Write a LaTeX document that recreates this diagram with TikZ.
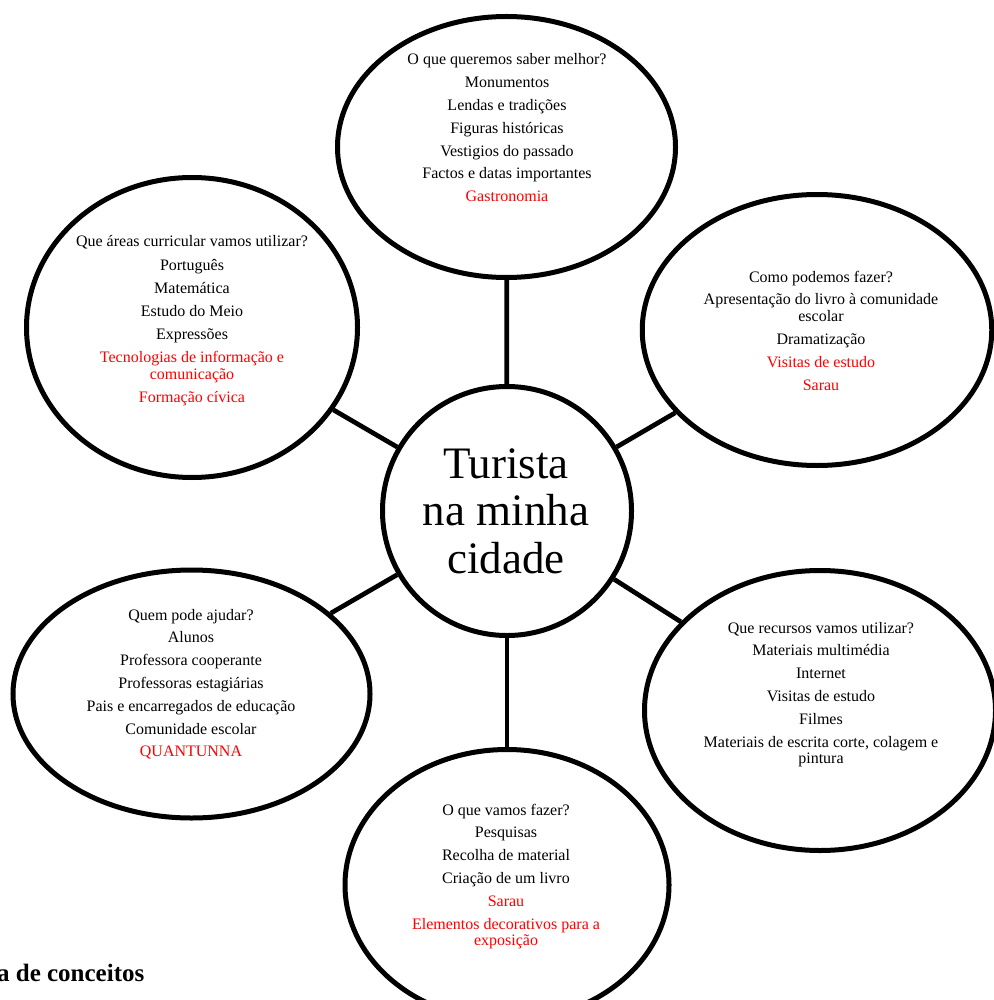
\documentclass[tikz,border=0pt]{standalone}
\usepackage{fontspec}
\setmainfont{Liberation Serif}
\usetikzlibrary{shapes.geometric}
\newcommand\rd[1]{\textcolor{red}{#1}}
\setlength{\tabcolsep}{0pt}
\begin{document}
\begin{tikzpicture}[x=1pt,y=-1pt,
  bubble/.style={draw, ellipse, line width=5pt, inner sep=0pt},
  hub/.style={draw, circle, line width=5pt, inner sep=0pt},
  link/.style={line width=4.7pt},
  txt/.style={anchor=base, inner sep=0pt, font=\fontsize{16}{16.5}\selectfont},
  big/.style={anchor=base, inner sep=0pt, font=\fontsize{45}{47.5}\selectfont}]
\useasboundingbox (0,0) rectangle (993,1000);

% nodes
\node[hub, minimum size=249pt] (c) at (507,511) {};
\node[bubble, minimum width=338pt, minimum height=261pt] (e1) at (506.5,147) {};
\node[bubble, minimum width=349.5pt, minimum height=271pt] (e2) at (817,330) {};
\node[bubble, minimum width=351pt, minimum height=280pt] (e3) at (820,710.5) {};
\node[bubble, minimum width=324pt, minimum height=271pt] (e4) at (507,885) {};
\node[bubble, minimum width=357pt, minimum height=248pt] (e5) at (191.5,694) {};
\node[bubble, minimum width=331pt, minimum height=300pt] (e6) at (192,327.5) {};

% connectors
\draw[link] (c) -- (e1);
\draw[link] (c) -- (e2);
\draw[link] (c) -- (e3);
\draw[link] (c) -- (e4);
\draw[link] (c) -- (e5);
\draw[link] (c) -- (e6);

% texts
\node[big] (tc) at (506,478) {\begin{tabular}[t]{c}Turista\\na minha\\cidade\end{tabular}};

\node[txt] (t1) at (507,65) {\begin{tabular}[t]{c}
O que queremos saber melhor?\\[6.3pt]
Monumentos\\[6.3pt]
Lendas e tradições\\[6.3pt]
Figuras históricas\\[6.3pt]
Vestigios do passado\\[6.3pt]
Factos e datas importantes\\[6.3pt]
\rd{Gastronomia}
\end{tabular}};

\node[txt] (t2) at (821,282) {\begin{tabular}[t]{c}
Como podemos fazer?\\[6.3pt]
Apresentação do livro à comunidade\\
escolar\\[6.5pt]
Dramatização\\[6.5pt]
\rd{Visitas de estudo}\\[6.5pt]
\rd{Sarau}
\end{tabular}};

\node[txt] (t3) at (821,633) {\begin{tabular}[t]{c}
Que recursos vamos utilizar?\\[6.3pt]
Materiais multimédia\\[6.3pt]
Internet\\[6.3pt]
Visitas de estudo\\[6.3pt]
Filmes\\[6.3pt]
Materiais de escrita corte, colagem e\\
pintura
\end{tabular}};

\node[txt] (t4) at (506,815) {\begin{tabular}[t]{c}
O que vamos fazer?\\[6.3pt]
Pesquisas\\[6.3pt]
Recolha de material\\[6.3pt]
Criação de um livro\\[6.3pt]
\rd{Sarau}\\[6.3pt]
\rd{Elementos decorativos para a}\\
\rd{exposição}
\end{tabular}};

\node[txt] (t5) at (191,620) {\begin{tabular}[t]{c}
Quem pode ajudar?\\[6.3pt]
Alunos\\[6.3pt]
Professora cooperante\\[6.3pt]
Professoras estagiárias\\[6.3pt]
Pais e encarregados de educação\\[6.3pt]
Comunidade escolar\\[6.3pt]
\rd{QUANTUNNA}
\end{tabular}};

\node[txt] (t6) at (192,247) {\begin{tabular}[t]{c}
Que áreas curricular vamos utilizar?\\[6.6pt]
Português\\[6.6pt]
Matemática\\[6.6pt]
Estudo do Meio\\[6.6pt]
Expressões\\[6.6pt]
\rd{Tecnologias de informação e}\\
\rd{comunicação}\\[6.6pt]
\rd{Formação cívica}
\end{tabular}};

\node[anchor=base east, inner sep=0pt, font=\bfseries\fontsize{25}{30}\selectfont] (cap) at (144.5,981) {Mapa de conceitos};
\end{tikzpicture}
\end{document}
